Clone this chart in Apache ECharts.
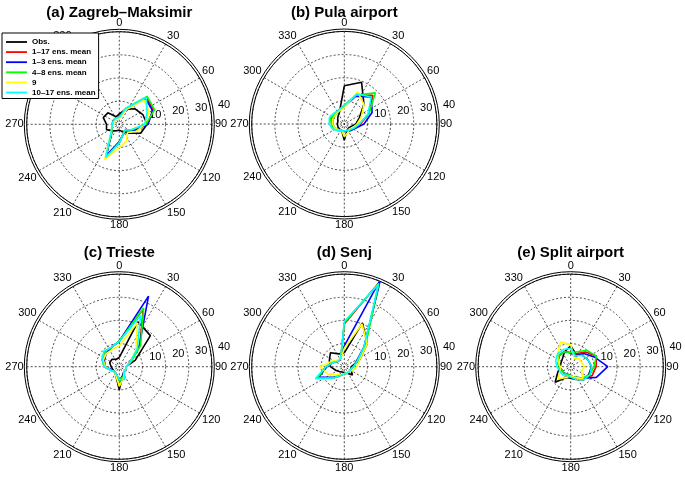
<!DOCTYPE html>
<html><head><meta charset="utf-8">
<script src="https://cdn.jsdelivr.net/npm/echarts@6/dist/echarts.min.js"></script>
<style>html,body{margin:0;padding:0;background:#fff}#c{width:685px;height:478px}</style>
</head><body><div id="c"></div>
<script>
// ---- data ----
const directions = [0, 22.5, 45, 67.5, 90, 112.5, 135, 157.5, 180, 202.5, 225, 247.5, 270, 292.5, 315, 337.5];
const seriesNames = ['Obs.', '1–17 ens. mean', '1–3 ens. mean', '4–8 ens. mean', '9', '10–17 ens. mean'];
const panelTitles = ['(a) Zagreb–Maksimir', '(b) Pula airport', '(c) Trieste', '(d) Senj', '(e) Split airport'];
const angleTickStep = 30;
const radiusTickStep = 10;
const radiusMax = 40;

// (a) Zagreb-Maksimir
const obsA    = [4.5, 7, 9.5, 11, 12, 10, 5.5, 3.5, 2.5, 3, 4, 6, 5.5, 7.5, 7, 3.5];
const redA    = [3, 7, 16.5, 16, 12, 6.5, 3.5, 4.5, 8, 15, 4.5, 3.5, 3, 3, 3, 3];
const blueA   = [3, 7, 16, 15.5, 12.5, 7, 4, 4.5, 7.5, 14.5, 4.5, 3.5, 3, 3, 3, 3];
const greenA  = [3, 7.5, 17, 16.5, 11.5, 6, 3.5, 4.5, 8, 15.5, 4.5, 3.5, 3, 3, 3, 3];
const yellowA = [2.5, 6.5, 15, 14, 11, 8, 5, 8, 10, 16.5, 5, 3.5, 3, 2.5, 2.5, 3];
const cyanA   = [3, 7.5, 16.5, 13, 11, 6, 3.5, 4.5, 8, 15.5, 5, 3.5, 3, 3, 3, 3];
// (b) Pula airport
const obsB    = [16.5, 19.5, 12, 7, 5, 3, 2.5, 3, 7, 3, 3, 3, 3, 3, 4, 5.5];
const redB    = [8, 13.5, 17.5, 11.5, 7, 4.5, 3.5, 3, 3, 3, 4, 5, 5.5, 6, 5.5, 6.5];
const blueB   = [7.5, 13, 16.5, 13, 8.5, 5, 4, 3.5, 3, 3, 3.5, 4.5, 5, 5.5, 5.5, 6];
const greenB  = [8, 13.5, 19, 11.5, 6.5, 4.5, 3.5, 3, 3, 3, 4, 5, 5.5, 6.5, 6, 6.5];
const yellowB = [7, 15, 12, 8, 5.5, 4, 3, 4, 5.5, 3, 3.5, 4.5, 5, 5.5, 5.5, 6];
const cyanB   = [8, 14, 16.5, 11, 6.5, 4.5, 3.5, 3, 3, 3, 4, 5.5, 6.5, 7, 6.5, 6.5];
// (c) Trieste
const obsC    = [4, 21, 19, 7.5, 3, 3, 3, 4, 10, 4, 3, 3, 3.5, 4.5, 4.5, 3.5];
const redC    = [11, 27, 12.5, 5, 3, 3, 3, 4.5, 6, 3.5, 3, 4, 6.5, 8, 9, 9];
const blueC   = [11, 33, 12, 5, 3, 3, 3, 4, 6, 3.5, 3, 3.5, 6, 7, 8, 9];
const greenC  = [11, 27.5, 13, 5.5, 3, 3, 3, 4.5, 6, 3.5, 3, 4, 6.5, 8, 9, 9];
const yellowC = [9, 20.5, 10, 5, 3, 3, 3, 5, 8.5, 4, 3, 4, 6, 7.5, 8, 8];
const cyanC   = [11, 24, 11, 5, 3, 3, 3, 6, 5.5, 3.5, 3, 4, 6.5, 8, 9.5, 9];
// (d) Senj
const obsD    = [6, 20.5, 14, 7, 3, 3, 5, 3, 2.5, 2.5, 3, 4, 6, 7, 8.5, 6];
const redD    = [18.5, 39.5, 12.5, 6, 4, 3, 3, 3, 3, 4, 7, 12.5, 8, 5, 3.5, 4];
const blueD   = [9, 41, 12, 5.5, 4, 3, 3, 3, 3, 4, 6.5, 12, 7.5, 5, 3.5, 4];
const greenD  = [19, 39, 13, 6, 4, 3, 3, 3, 3, 4, 7, 12.5, 8, 5, 3.5, 4];
const yellowD = [8, 20, 14, 7, 5.5, 4, 3, 3, 3, 3.5, 5, 8, 10.5, 6, 4, 4];
const cyanD   = [19.5, 38.5, 12, 6, 4, 3, 3, 3, 3, 4, 7, 13.5, 8, 5, 3.5, 4];
// (e) Split airport
const obsE    = [9, 6, 7, 8, 9, 8.5, 8, 6, 5, 5, 9.5, 6, 4.5, 4.5, 5, 7];
const redE    = [6, 6, 9, 12, 11, 10, 7, 5, 4, 3.5, 4, 4, 5, 6, 7, 7];
const blueE   = [6, 5, 8, 11, 16, 12, 7, 5, 4, 3.5, 4, 4, 5, 6, 7, 7];
const greenE  = [6, 7, 10, 12, 10, 9, 7, 5, 4, 3.5, 4, 4, 5, 6, 7, 7];
const yellowE = [9.5, 4, 5, 5, 6, 5, 7.5, 5, 4, 5, 7.5, 5, 4.5, 6, 8, 11.5];
const cyanE   = [8, 5, 7, 8, 9, 9, 8, 6, 4.5, 4, 5, 5, 6, 7, 8, 8];

const panelData = [
  [obsA, redA, blueA, greenA, yellowA, cyanA],
  [obsB, redB, blueB, greenB, yellowB, cyanB],
  [obsC, redC, blueC, greenC, yellowC, cyanC],
  [obsD, redD, blueD, greenD, yellowD, cyanD],
  [obsE, redE, blueE, greenE, yellowE, cyanE]
];

// ---- layout & style ----
const seriesColors = ['#000000', '#ff0000', '#0000ff', '#00ff00', '#ffff00', '#00ffff'];
const centers = [[119.3, 124.3], [344.3, 124], [119.3, 366.7], [344.3, 366.7], [570.7, 366.7]];
const titleTops = [5, 5, 245, 245, 245];
const R = 92.6, ROuter = 95;
const FONT = 'Liberation Sans, Arial, Helvetica, sans-serif';
const dashStyle = { color: '#111', type: [2, 2], width: 0.75 };

const polar = [], angleAxis = [], radiusAxis = [], series = [], title = [];
centers.forEach((c, p) => {
  polar.push({ center: c, radius: R });
  polar.push({ center: c, radius: ROuter });
  angleAxis.push({
    polarIndex: 2 * p, type: 'value', min: 0, max: 360, interval: angleTickStep,
    startAngle: 90, clockwise: true,
    axisLine: { lineStyle: { color: '#000', width: 1 } },
    axisTick: { show: false },
    axisLabel: { margin: 3, color: '#000', fontSize: 11, fontFamily: FONT },
    splitLine: { lineStyle: dashStyle }
  });
  angleAxis.push({
    polarIndex: 2 * p + 1, type: 'value', min: 0, max: 360, interval: angleTickStep,
    startAngle: 8, clockwise: true,
    axisLine: { lineStyle: { color: '#000', width: 1 } },
    axisTick: { show: false }, axisLabel: { show: false }, splitLine: { show: false }
  });
  radiusAxis.push({
    polarIndex: 2 * p, type: 'value', min: 0, max: radiusMax, interval: radiusTickStep,
    axisLine: { show: false }, axisTick: { show: false }, axisLabel: { show: false },
    splitLine: { lineStyle: dashStyle }
  });
  radiusAxis.push({
    polarIndex: 2 * p + 1, type: 'value', min: 0, max: radiusMax * ROuter / R, interval: radiusTickStep,
    axisLine: { show: false }, axisTick: { show: false }, splitLine: { show: false },
    axisLabel: {
      margin: 0, align: 'left', verticalAlign: 'bottom', padding: [0, 0, 1, 7],
      color: '#000', fontSize: 11, fontFamily: FONT,
      formatter: v => (v > 0 && Math.abs(v % radiusTickStep) < 1e-6) ? String(v) : ''
    }
  });
  title.push({
    text: panelTitles[p], left: c[0], top: titleTops[p], textAlign: 'center', padding: 0,
    textStyle: { fontSize: 15, fontWeight: 'bold', color: '#000', fontFamily: FONT }
  });
  panelData[p].forEach((vals, k) => {
    const pts = directions.map((d, i) => [vals[i], d]);
    pts.push([vals[0], 360]);
    series.push({
      type: 'line', name: seriesNames[k], coordinateSystem: 'polar', polarIndex: 2 * p,
      data: pts, symbol: 'none', clip: false, animation: false,
      lineStyle: { color: seriesColors[k], width: 1.6 },
      itemStyle: { color: seriesColors[k] }
    });
  });
});

const chart = echarts.init(document.getElementById('c'), null, { renderer: 'canvas' });
chart.setOption({
  backgroundColor: '#fff',
  animation: false,
  title, polar, angleAxis, radiusAxis, series,
  legend: {
    data: seriesNames.map(n => ({ name: n, icon: 'rect' })),
    orient: 'vertical', left: 2, top: 33,
    itemWidth: 21, itemHeight: 1.8, itemGap: 2.1, padding: [5, 3, 2, 4],
    borderColor: '#000', borderWidth: 1, backgroundColor: '#fff', selectedMode: false,
    textStyle: { fontSize: 8, fontWeight: 'bold', color: '#000', fontFamily: FONT }
  }
});
</script></body></html>
